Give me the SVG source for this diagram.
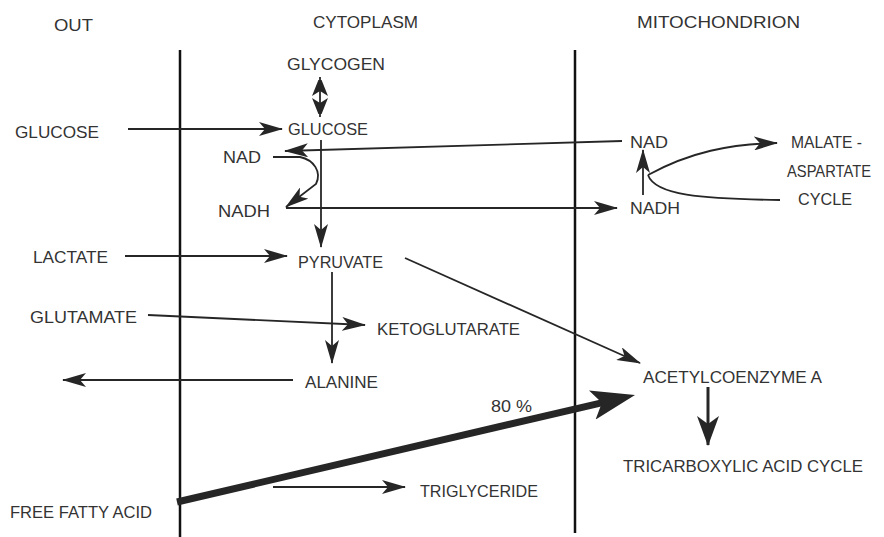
<svg xmlns="http://www.w3.org/2000/svg" width="884" height="537" viewBox="0 0 884 537">
<style>
text{font-family:"Liberation Sans",Arial,sans-serif;font-size:17px;fill:#333;}
.c{fill:none;stroke:#262626;stroke-width:1.8;}
.m{marker-end:url(#ah);}
.wall{stroke:#111;stroke-width:2.5;fill:none;}
</style>
<defs>
<marker id="ah" viewBox="0 0 24 14" markerWidth="24" markerHeight="14" refX="23" refY="7" orient="auto" markerUnits="userSpaceOnUse">
<path d="M0,0 L24,7 L0,14 L6,7 z" fill="#262626"/>
</marker>
<marker id="ahs" viewBox="0 0 16 20" markerWidth="16" markerHeight="20" refX="19" refY="8" orient="auto" markerUnits="userSpaceOnUse">
<path d="M0,0 L20,8 L0,16 L5,8 z" fill="#262626"/>
</marker>
<marker id="ahm" viewBox="0 0 30 22" markerWidth="30" markerHeight="22" refX="29" refY="11" orient="auto" markerUnits="userSpaceOnUse">
<path d="M0,0 L30,11 L0,22 L8,11 z" fill="#262626"/>
</marker>
<marker id="ahb" viewBox="0 0 44 30" markerWidth="44" markerHeight="30" refX="14" refY="15" orient="auto" markerUnits="userSpaceOnUse">
<path d="M0,0 L44,15 L0,30 L10,15 z" fill="#262626"/>
</marker>
</defs>

<g id="walls">
<line class="wall" x1="180" y1="50" x2="180" y2="537"/>
<line class="wall" x1="575" y1="50" x2="575" y2="533"/>
</g>

<g id="headers">
<text x="54" y="31" textLength="39" lengthAdjust="spacingAndGlyphs">OUT</text>
<text x="313" y="28" textLength="105" lengthAdjust="spacingAndGlyphs">CYTOPLASM</text>
<text x="637" y="28" textLength="163" lengthAdjust="spacingAndGlyphs">MITOCHONDRION</text>
</g>

<g id="connectors">
<line class="c" x1="320" y1="97" x2="320" y2="77" style="marker-end:url(#ahs)"/>
<line class="c" x1="320" y1="97" x2="320" y2="117" style="marker-end:url(#ahs)"/>
<path class="c m" d="M128,129 L282,129"/>
<path class="c m" d="M622,141 L285,151"/>
<path class="c m" d="M273,157 L300,157 C314,160 322,172 316,184 L286,207"/>
<path class="c m" d="M286,208 L617,208"/>
<path class="c m" d="M321,140 L321,247"/>
<path class="c m" d="M643,195 L643,150"/>
<path class="c m" d="M648,175 C690,152 730,144 777,143"/>
<path class="c" d="M648,175 C655,195 700,199 780,200"/>
<path class="c m" d="M125,256 L287,256"/>
<path class="c m" d="M405,258 L640,363"/>
<path class="c m" d="M332,272 L332,363"/>
<path class="c m" d="M148,315 L365,325"/>
<path class="c m" d="M293,380 L63,380"/>
<path d="M177,502 L605.8,401.8" fill="none" stroke="#262626" stroke-width="7" style="marker-end:url(#ahb)"/>
<path class="c m" d="M273,487 L405,487"/>
<path d="M708,387 L708,445" fill="none" stroke="#262626" stroke-width="3" style="marker-end:url(#ahm)"/>
</g>

<g id="glycogen"><text x="287" y="70" textLength="98" lengthAdjust="spacingAndGlyphs">GLYCOGEN</text></g>
<g id="glucose-out"><text x="15" y="138" textLength="84" lengthAdjust="spacingAndGlyphs">GLUCOSE</text></g>
<g id="glucose-cyto"><text x="288" y="135" textLength="80" lengthAdjust="spacingAndGlyphs">GLUCOSE</text></g>
<g id="nad-cyto"><text x="223" y="163" textLength="38" lengthAdjust="spacingAndGlyphs">NAD</text></g>
<g id="nadh-cyto"><text x="218" y="217" textLength="52" lengthAdjust="spacingAndGlyphs">NADH</text></g>
<g id="nad-mito"><text x="630" y="148" textLength="38" lengthAdjust="spacingAndGlyphs">NAD</text></g>
<g id="nadh-mito"><text x="630" y="214" textLength="50" lengthAdjust="spacingAndGlyphs">NADH</text></g>
<g id="malate-aspartate-cycle">
<text x="791" y="148" textLength="71" lengthAdjust="spacingAndGlyphs">MALATE -</text>
<text x="787" y="177" textLength="84" lengthAdjust="spacingAndGlyphs">ASPARTATE</text>
<text x="798" y="205" textLength="54" lengthAdjust="spacingAndGlyphs">CYCLE</text>
</g>
<g id="lactate"><text x="33" y="263" textLength="75" lengthAdjust="spacingAndGlyphs">LACTATE</text></g>
<g id="pyruvate"><text x="298" y="268" textLength="85" lengthAdjust="spacingAndGlyphs">PYRUVATE</text></g>
<g id="glutamate"><text x="30" y="323" textLength="107" lengthAdjust="spacingAndGlyphs">GLUTAMATE</text></g>
<g id="ketoglutarate"><text x="377" y="335" textLength="143" lengthAdjust="spacingAndGlyphs">KETOGLUTARATE</text></g>
<g id="alanine"><text x="305" y="388" textLength="73" lengthAdjust="spacingAndGlyphs">ALANINE</text></g>
<g id="label-80"><text x="491" y="412" textLength="41" lengthAdjust="spacingAndGlyphs">80 %</text></g>
<g id="acetylcoa"><text x="643" y="383" textLength="179" lengthAdjust="spacingAndGlyphs">ACETYLCOENZYME A</text></g>
<g id="tca"><text x="623" y="472" textLength="240" lengthAdjust="spacingAndGlyphs">TRICARBOXYLIC ACID CYCLE</text></g>
<g id="triglyceride"><text x="420" y="497" textLength="118" lengthAdjust="spacingAndGlyphs">TRIGLYCERIDE</text></g>
<g id="ffa"><text x="10" y="518" textLength="142" lengthAdjust="spacingAndGlyphs">FREE FATTY ACID</text></g>
</svg>
